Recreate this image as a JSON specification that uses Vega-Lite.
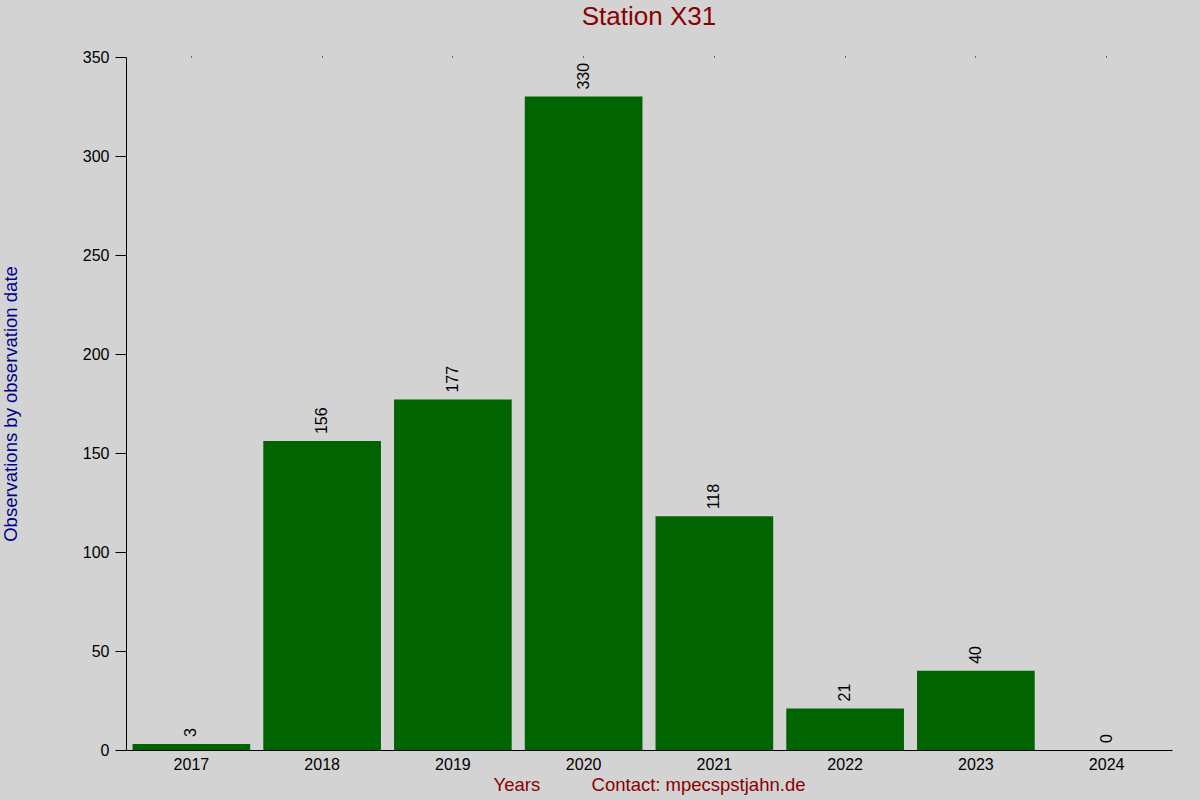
{
  "$schema": "https://vega.github.io/schema/vega-lite/v6.json",
  "autosize": {"type": "none"},
  "padding": {"left": 126, "top": 57, "right": 28, "bottom": 50},
  "width": 1046,
  "height": 693,
  "background": "#d3d3d3",
  "title": {
    "text": "Station X31",
    "font": "Liberation Sans",
    "fontSize": 26,
    "fontWeight": "normal",
    "color": "#8b0000",
    "anchor": "middle",
    "offset": 19
  },
  "config": {
    "view": {"stroke": null},
    "font": "Liberation Sans",
    "axis": {
      "domainColor": "#000000",
      "tickColor": "#000000",
      "labelColor": "#000000",
      "labelFont": "Liberation Sans",
      "labelFontSize": 16,
      "titleFont": "Liberation Sans",
      "titleFontSize": 18.5,
      "titleFontWeight": "normal",
      "grid": false
    }
  },
  "data": {
    "values": [
      {"year": "2017", "count": 3},
      {"year": "2018", "count": 156},
      {"year": "2019", "count": 177},
      {"year": "2020", "count": 330},
      {"year": "2021", "count": 118},
      {"year": "2022", "count": 21},
      {"year": "2023", "count": 40},
      {"year": "2024", "count": 0}
    ]
  },
  "layer": [
    {
      "mark": {"type": "bar", "color": "#006400"},
      "encoding": {
        "x": {
          "field": "year",
          "type": "ordinal",
          "scale": {"paddingInner": 0.1, "paddingOuter": 0.05},
          "axis": {
            "title": "Years\u00a0\u00a0\u00a0\u00a0\u00a0\u00a0\u00a0\u00a0\u00a0\u00a0Contact: mpecspstjahn.de",
            "titleColor": "#8b0000",
            "titleY": 25,
            "titleBaseline": "top",
            "labelAngle": 0,
            "ticks": false,
            "labelPadding": 6
          }
        },
        "y": {
          "field": "count",
          "type": "quantitative",
          "scale": {"domain": [0, 350], "nice": false},
          "axis": {
            "title": "Observations by observation date",
            "titleColor": "#00008b",
            "titleX": -116,
            "titleY": 346.5,
            "titleAngle": -90,
            "titleAlign": "center",
            "titleBaseline": "middle",
            "values": [0, 50, 100, 150, 200, 250, 300, 350],
            "tickSize": 11,
            "labelPadding": 6
          }
        }
      }
    },
    {
      "mark": {
        "type": "text",
        "angle": 270,
        "align": "left",
        "baseline": "middle",
        "dx": 7,
        "fontSize": 16,
        "color": "#000000",
        "font": "Liberation Sans"
      },
      "encoding": {
        "x": {
          "field": "year",
          "type": "ordinal",
          "axis": {
            "orient": "top",
            "labels": false,
            "domain": false,
            "tickSize": 1,
            "title": null
          }
        },
        "y": {"field": "count", "type": "quantitative"},
        "text": {"field": "count", "type": "quantitative"}
      }
    }
  ],
  "resolve": {"axis": {"x": "independent"}}
}
